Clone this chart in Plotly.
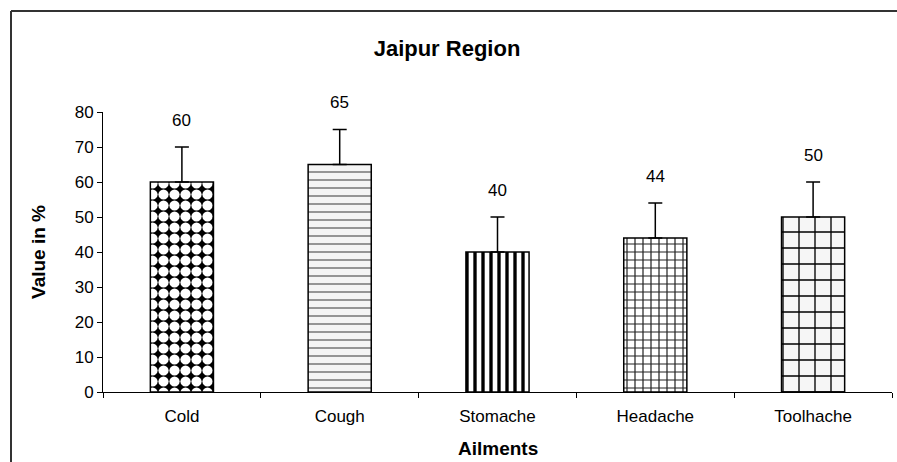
import plotly.graph_objects as go

categories = ["Cold", "Cough", "Stomache", "Headache", "Toolhache"]
values = [60, 65, 40, 44, 50]
errors = [10, 10, 10, 10, 10]
y_ticks = [0, 10, 20, 30, 40, 50, 60, 70, 80]

FONT = "Liberation Sans, Arial, sans-serif"

# per-bar fill patterns (style only)
patterns = [
    dict(shape=".", fgcolor="white", bgcolor="black", size=11, solidity=0.68),
    dict(shape="-", fgcolor="#555555", bgcolor="#f4f4f4", size=8, solidity=0.15),
    dict(shape="|", fgcolor="black", bgcolor="white", size=8, solidity=0.42),
    dict(shape="+", fgcolor="#222222", bgcolor="white", size=8, solidity=0.28),
    dict(shape="+", fgcolor="black", bgcolor="#f6f6f6", size=16, solidity=0.16),
]

fig = go.Figure()
for c, v, e, p in zip(categories, values, errors, patterns):
    fig.add_trace(go.Bar(
        x=[c], y=[v], width=0.4,
        marker=dict(
            color=p["bgcolor"],
            line=dict(color="black", width=1.5),
            pattern=dict(shape=p["shape"], fgcolor=p["fgcolor"],
                         bgcolor=p["bgcolor"], size=p["size"],
                         solidity=p["solidity"], fgopacity=1,
                         fillmode="replace"),
        ),
        error_y=dict(type="data", symmetric=False, array=[e], arrayminus=[0],
                     color="black", thickness=1.5, width=7),
        showlegend=False,
        hoverinfo="skip",
    ))
    fig.add_annotation(x=c, y=v + e, text=str(v), showarrow=False,
                       yanchor="middle", yshift=27,
                       font=dict(family=FONT, size=17, color="black"))

fig.add_annotation(xref="paper", yref="paper", x=-0.0824, y=0.5,
                   xanchor="center", yanchor="middle",
                   text="<b>Value in %</b>", textangle=-90, showarrow=False,
                   font=dict(family=FONT, size=19, color="black"))
fig.add_annotation(xref="paper", yref="paper", x=0.5, y=0, yshift=-56,
                   xanchor="center", yanchor="middle",
                   text="<b>Ailments</b>", showarrow=False,
                   font=dict(family=FONT, size=19, color="black"))

# outer chart-area frame (top and left edges visible)
fig.add_shape(type="line", xref="paper", yref="paper",
              x0=-0.1166, x1=1.2, y0=1.3607, y1=1.3607,
              line=dict(color="#333333", width=2))
fig.add_shape(type="line", xref="paper", yref="paper",
              x0=-0.1166, x1=-0.1166, y0=1.3607, y1=-0.5,
              line=dict(color="#333333", width=2))

fig.update_layout(
    width=897, height=462,
    margin=dict(l=103, r=5, t=112, b=70),
    paper_bgcolor="white", plot_bgcolor="white",
    font=dict(family=FONT, size=17, color="black"),
    title=dict(text="<b>Jaipur Region</b>", x=447 / 897, xanchor="center",
               y=1 - 48 / 462, yanchor="middle", yref="container",
               font=dict(family=FONT, size=22, color="black")),
    barmode="overlay",
)
fig.update_xaxes(showline=True, linecolor="black", linewidth=1,
                 ticks="outside", ticklen=5, tickcolor="black",
                 tickson="boundaries", ticklabelstandoff=9,
                 showgrid=False, tickfont=dict(size=17),
                 categoryorder="array", categoryarray=categories)
fig.update_yaxes(range=[0, 80], tickvals=y_ticks, showline=True,
                 linecolor="black", linewidth=1, ticks="outside", ticklen=5,
                 tickcolor="black", showgrid=False, zeroline=False,
                 tickfont=dict(size=17))

fig.write_html(
    "out.html",
    config={"displayModeBar": False},
    post_script="document.body.style.margin='0';document.body.style.overflow='hidden';",
)
